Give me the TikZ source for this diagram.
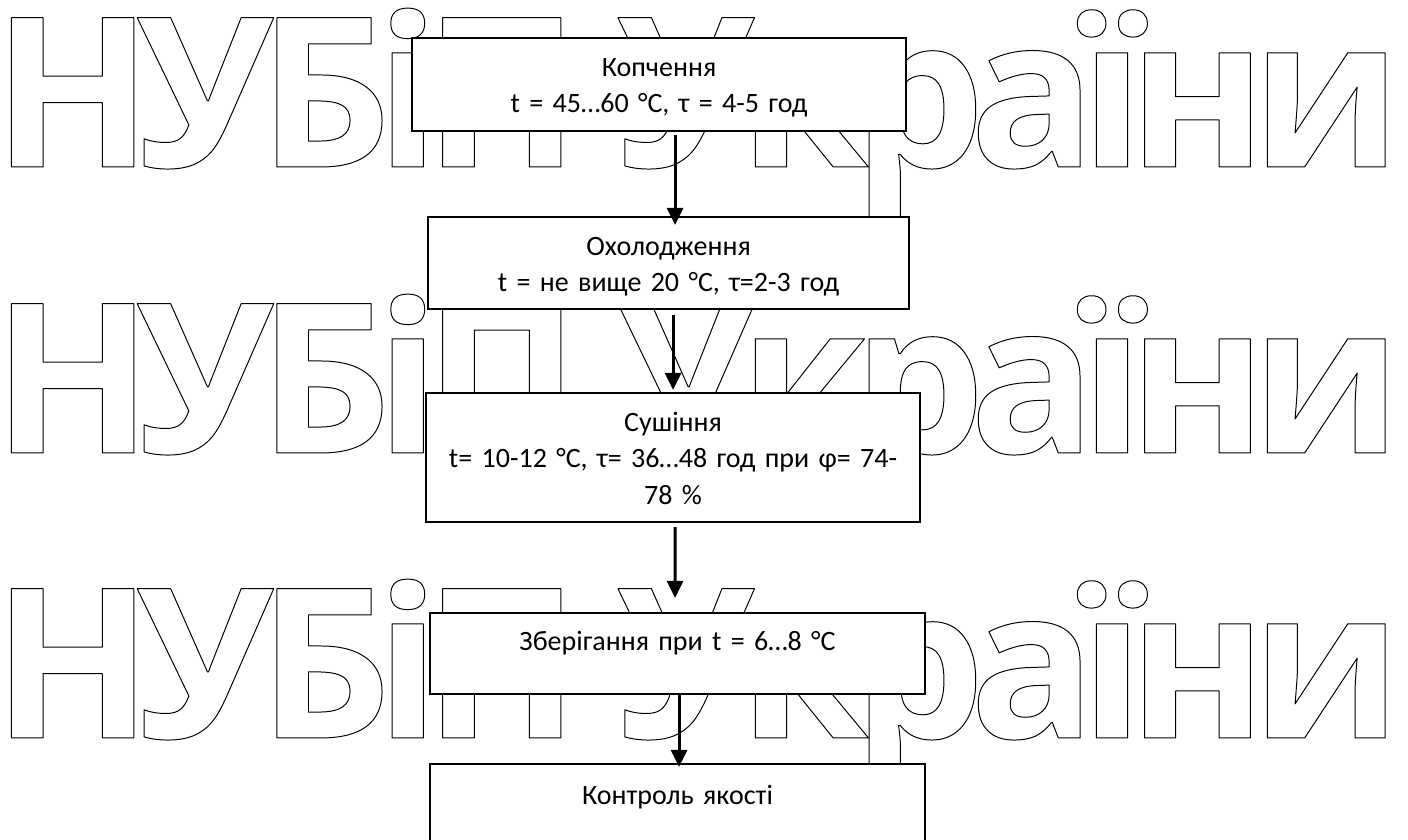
\documentclass[tikz,border=0pt]{standalone}
\usepackage{fontspec}
\setmainfont{Carlito}
\newfontfamily\markfont[LetterSpace=-7.5]{Open Sans}
\usetikzlibrary{arrows.meta, positioning, calc}
\newcommand\stagefont{\fontsize{7.97}{10.4}\selectfont}
\newcommand\hollow[1]{\special{pdf:literal direct 1 Tr 0.28 w 1 j}#1\special{pdf:literal direct 0 Tr 0.3985 w 0 j}}

\begin{document}
\begin{tikzpicture}[
    stage/.style={draw, line width=0.6pt, fill=white, inner sep=0pt, align=center,
                  anchor=north west, font=\stagefont, text height=0.38cm},
    flow/.style={-{Triangle[width=0.16cm, length=0.17cm]}, line width=0.85pt},
    wmark/.style={inner sep=0pt, anchor=base west,
                  font=\markfont\fontsize{59.5}{60}\selectfont\bfseries}
  ]
  \clip (0,0) rectangle (14.08,8.40);

  % watermark rows
  \foreach \row/\base in {1/6.73, 2/3.87, 3/1.02} {
    \node[wmark] (mark\row) at (-0.08,\base) {\hollow{НУБіП України}};
  }

  % process stages
  \node[stage, text width=4.94cm, text depth=0.55cm] (smoking) at (4.11,8.03)
    {Копчення\\ t = 45…60 °C, τ = 4-5 год};
  \node[stage, text width=4.81cm, text depth=0.54cm] (cooling) at (4.27,6.24)
    {Охолодження\\ t = не вище 20 °C, τ=2-3 год};
  \node[stage, text width=4.94cm, text depth=0.91cm] (drying) at (4.25,4.48)
    {Сушіння\\ t= 10-12 °C, τ= 36…48 год при φ= 74-\\ 78 \%};
  \node[stage, text width=4.95cm, text height=0.37cm, text depth=0.44cm] (storage) at (4.29,2.28)
    {Зберігання при t = 6…8 °C};
  \node[stage, text width=4.95cm, text height=0.40cm, text depth=0.60cm] (quality) at (4.29,0.77)
    {Контроль якості};

  \draw[flow] ([xshift=0.16cm, yshift=-0.03cm]smoking.south) -- ([xshift=0.065cm, yshift=-0.09cm]cooling.north);
  \draw[flow] ([xshift=0.045cm, yshift=-0.05cm]cooling.south) -- ([yshift=0.02cm]drying.north);
  \draw[flow] ([xshift=0.02cm, yshift=-0.04cm]drying.south) -- ([xshift=-0.025cm, yshift=0.14cm]storage.north);
  \draw[flow] ([xshift=0.015cm]storage.south) -- ([xshift=0.015cm, yshift=-0.04cm]quality.north);
\end{tikzpicture}
\end{document}
